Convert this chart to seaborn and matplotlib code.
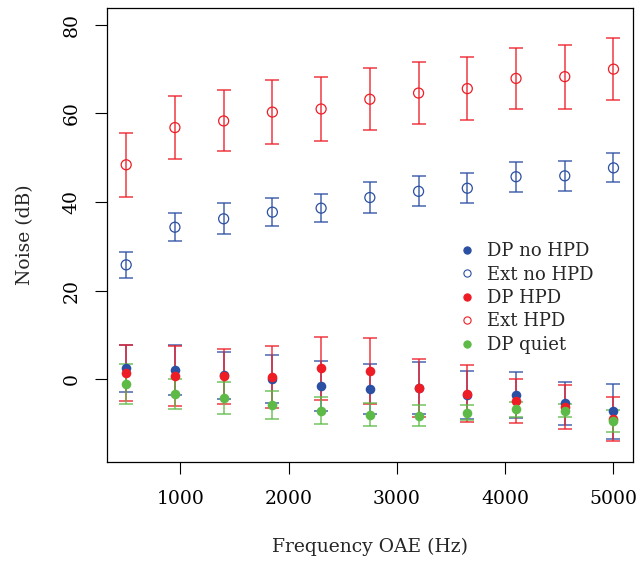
import numpy as np
import pandas as pd
import matplotlib
matplotlib.use("Agg")
import matplotlib.pyplot as plt
from matplotlib.lines import Line2D
import seaborn as sns

# ---- data ----
freq = [500, 950, 1400, 1850, 2300, 2750, 3200, 3650, 4100, 4550, 5000]

dp_nohpd = [2.4, 2.1, 0.9, 0.0, -1.6, -2.2, -2.1, -3.6, -3.5, -5.5, -7.3]
dp_nohpd_err = [5.3, 5.6, 5.3, 5.5, 5.6, 5.6, 5.9, 5.4, 5.2, 4.9, 6.3]

ext_nohpd = [25.8, 34.3, 36.2, 37.7, 38.6, 41.0, 42.4, 43.1, 45.7, 45.9, 47.7]
ext_nohpd_err = [3.0, 3.2, 3.5, 3.2, 3.2, 3.4, 3.4, 3.4, 3.4, 3.4, 3.3]

dp_hpd = [1.4, 0.75, 0.65, 0.5, 2.4, 1.8, -2.0, -3.3, -5.0, -6.3, -9.0]
dp_hpd_err = [6.3, 6.8, 6.2, 7.0, 7.2, 7.4, 6.6, 6.4, 5.0, 4.9, 5.0]

ext_hpd = [48.4, 56.8, 58.3, 60.3, 61.0, 63.2, 64.6, 65.6, 67.9, 68.3, 70.0]
ext_hpd_err = [7.2, 7.1, 6.9, 7.2, 7.2, 7.0, 7.1, 7.2, 6.9, 7.2, 7.0]

dp_quiet = [-1.1, -3.4, -4.35, -5.85, -7.1, -8.1, -8.25, -7.6, -6.85, -7.15, -9.4]
dp_quiet_err = [4.45, 3.4, 3.6, 3.2, 3.0, 2.6, 2.35, 1.7, 1.65, 1.45, 2.5]

series_names = ["DP no HPD", "Ext no HPD", "DP HPD", "Ext HPD", "DP quiet"]
series_vals = [dp_nohpd, ext_nohpd, dp_hpd, ext_hpd, dp_quiet]
series_errs = [dp_nohpd_err, ext_nohpd_err, dp_hpd_err, ext_hpd_err, dp_quiet_err]

x_ticks = [1000, 2000, 3000, 4000, 5000]
y_ticks = [0, 20, 40, 60, 80]

# ---- styling ----
blue = "#2B4FA2"
red = "#EE1D25"
green = "#5DBA47"
colors = [blue, blue, red, red, green]
filled = [True, False, True, False, True]

sns.set_style("ticks")
plt.rcParams["font.family"] = ["DejaVu Serif"]
plt.rcParams["font.size"] = 13.5

fig = plt.figure(figsize=(6.37, 5.61), dpi=100)
ax = fig.add_axes([0.1675, 0.1759, 0.9937 - 0.1675, 0.9857 - 0.1759])

rows = []
for name, vals, errs in zip(series_names, series_vals, series_errs):
    for f, v, e in zip(freq, vals, errs):
        rows.append({"freq": f, "noise": v, "err": e, "series": name})
df = pd.DataFrame(rows)

for name, col, fill in zip(series_names, colors, filled):
    sub = df[df["series"] == name]
    ax.errorbar(sub["freq"], sub["noise"], yerr=sub["err"], fmt="none",
                ecolor=col, elinewidth=1.2, capsize=5.0, capthick=1.2,
                alpha=0.8, zorder=2)
    if fill:
        sns.scatterplot(data=sub, x="freq", y="noise", ax=ax, color=col,
                        s=48, edgecolor=col, linewidth=0, zorder=3,
                        legend=False)
    else:
        sns.scatterplot(data=sub, x="freq", y="noise", ax=ax, marker="o",
                        s=52, facecolors="none", edgecolor=col,
                        linewidth=0.9, zorder=3, legend=False)

ax.set_xlim(320, 5180)
ax.set_ylim(-18.8, 83.8)
ax.set_xticks(x_ticks)
ax.set_yticks(y_ticks)
ax.set_xticklabels([str(t) for t in x_ticks])
ax.set_yticklabels([str(t) for t in y_ticks], rotation=90, va="center")

for sp in ax.spines.values():
    sp.set_visible(True)
    sp.set_color("black")
    sp.set_linewidth(0.9)
ax.tick_params(axis="both", direction="out", length=8.6, width=0.8,
               colors="black", labelsize=13.5)
ax.tick_params(axis="x", pad=11.5)
ax.tick_params(axis="y", pad=10)

ax.set_xlabel("Frequency OAE (Hz)", fontsize=13.5)
ax.set_ylabel("Noise (dB)", fontsize=13.5)
ax.xaxis.set_label_coords(0.5, -0.1864)
ax.xaxis.label.set_va("center")
ax.yaxis.set_label_coords((25 - 106.7) / 526.3, 0.5)
ax.yaxis.label.set_va("center")

handles = []
for name, col, fill in zip(series_names, colors, filled):
    handles.append(Line2D([0], [0], marker="o", linestyle="none",
                          markersize=5.2,
                          markerfacecolor=col if fill else "none",
                          markeredgecolor=col, markeredgewidth=0.8,
                          label=name))
leg = ax.legend(handles=handles, loc="upper left",
                bbox_to_anchor=((449 - 106.7) / 526.3, (462.3 - 235) / 454.3),
                frameon=False, handletextpad=0.5, labelspacing=0.3,
                borderaxespad=0, handlelength=1.2, fontsize=13)

fig.savefig("out.png", dpi=100)
